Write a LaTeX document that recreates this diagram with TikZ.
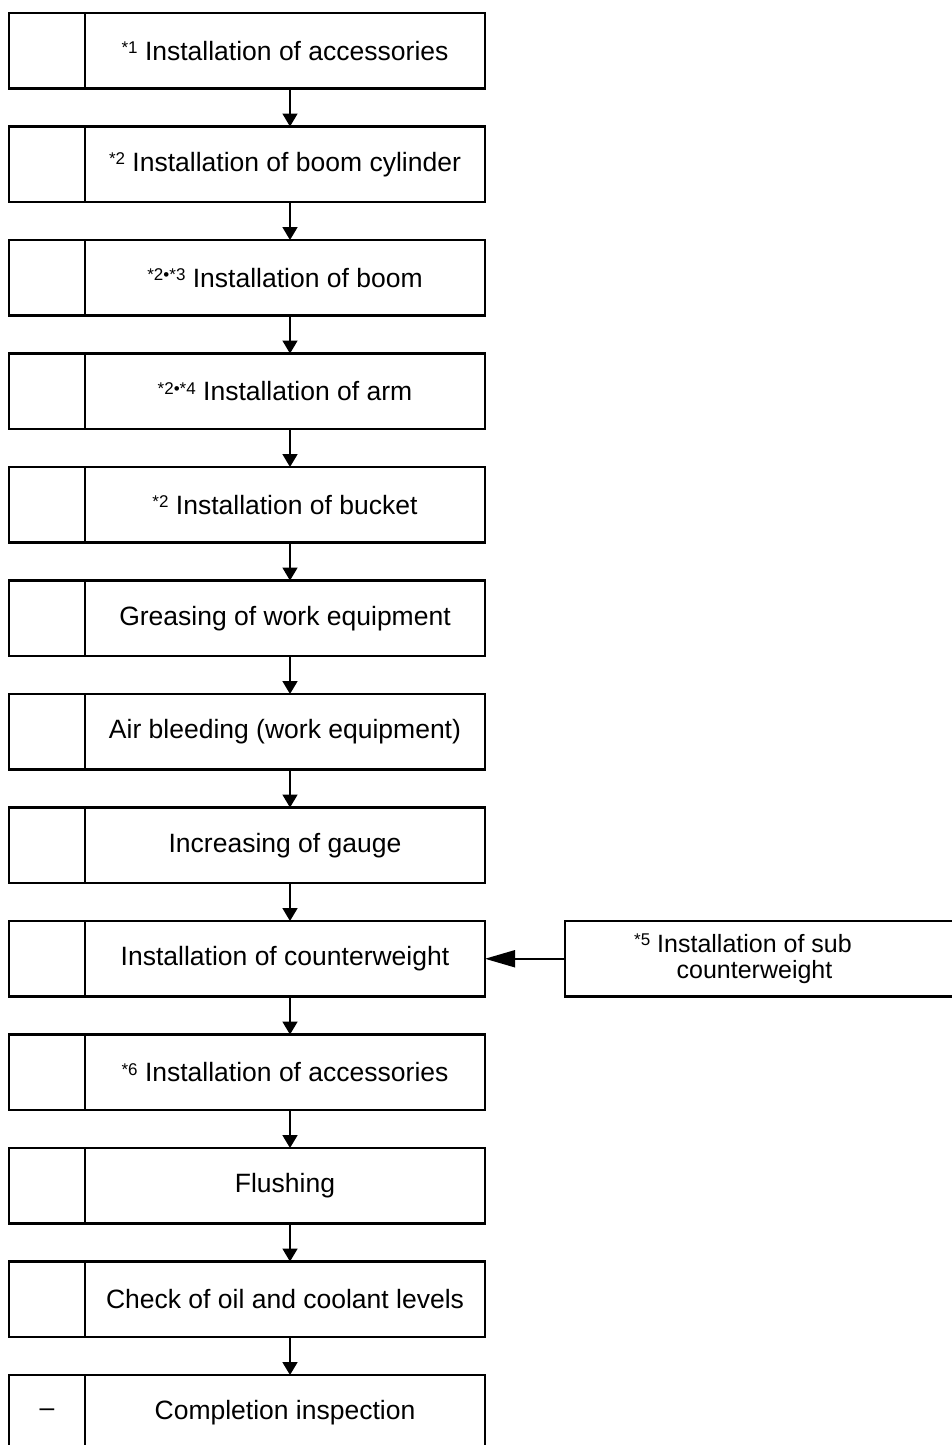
\documentclass[tikz,border=0pt]{standalone}
\usepackage{fontspec}
\setmainfont{Liberation Sans}
\usetikzlibrary{positioning,arrows.meta}

\newcommand\starno[1]{\raisebox{6.5pt}{\fontsize{17}{17}\selectfont *#1}}

\tikzset{
  leftcell/.style={draw, line width=2.4pt, outer sep=0pt, inner sep=0pt,
    minimum width=76pt, minimum height=75.5pt, font=\fontsize{26.5}{28}\selectfont},
  stepbox/.style={leftcell, minimum width=400pt},
  subbox/.style={leftcell, minimum width=395pt},
  flow/.style={line width=1.8pt, -{Triangle[length=13pt,width=15pt]}},
  feed/.style={line width=1.8pt, -{Triangle[length=30pt,width=17pt]}},
}

\begin{document}
\begin{tikzpicture}[x=1pt,y=-1pt]
\useasboundingbox (0,0) rectangle (951,1445);

\node[leftcell] (l1) at (47,50.75) {};
\node[stepbox, right=0pt of l1] (s1) {\starno1 Installation of accessories};
\node[leftcell, below=38pt of l1] (l2) {};
\node[stepbox, right=0pt of l2] (s2) {\starno2 Installation of boom cylinder};
\node[leftcell, below=38pt of l2] (l3) {};
\node[stepbox, right=0pt of l3] (s3) {\starno{2•*3} Installation of boom};
\node[leftcell, below=38pt of l3] (l4) {};
\node[stepbox, right=0pt of l4] (s4) {\starno{2•*4} Installation of arm};
\node[leftcell, below=38pt of l4] (l5) {};
\node[stepbox, right=0pt of l5] (s5) {\starno2 Installation of bucket};
\node[leftcell, below=38pt of l5] (l6) {};
\node[stepbox, right=0pt of l6] (s6) {Greasing of work equipment};
\node[leftcell, below=38pt of l6] (l7) {};
\node[stepbox, right=0pt of l7] (s7) {Air bleeding (work equipment)};
\node[leftcell, below=38pt of l7] (l8) {};
\node[stepbox, right=0pt of l8] (s8) {Increasing of gauge};
\node[leftcell, below=38pt of l8] (l9) {};
\node[stepbox, right=0pt of l9] (s9) {Installation of counterweight};
\node[leftcell, below=38pt of l9] (l10) {};
\node[stepbox, right=0pt of l10] (s10) {\starno6 Installation of accessories};
\node[leftcell, below=38pt of l10] (l11) {};
\node[stepbox, right=0pt of l11] (s11) {Flushing};
\node[leftcell, below=38pt of l11] (l12) {};
\node[stepbox, right=0pt of l12] (s12) {Check of oil and coolant levels};
\node[leftcell, below=38pt of l12] (l13) {--};
\node[stepbox, right=0pt of l13] (s13) {Completion inspection};

% side step
\node[subbox, right=80pt of s9] (sub) {};
\node[align=center, inner sep=0pt, font=\fontsize{25}{26}\selectfont] (subtext)
  at ([xshift=-8pt]sub.center) {\llap{\starno5 }Installation of sub\\counterweight};

\draw[flow] ([xshift=5pt]s1.south) -- ([xshift=5pt]s2.north);
\draw[flow] ([xshift=5pt]s2.south) -- ([xshift=5pt]s3.north);
\draw[flow] ([xshift=5pt]s3.south) -- ([xshift=5pt]s4.north);
\draw[flow] ([xshift=5pt]s4.south) -- ([xshift=5pt]s5.north);
\draw[flow] ([xshift=5pt]s5.south) -- ([xshift=5pt]s6.north);
\draw[flow] ([xshift=5pt]s6.south) -- ([xshift=5pt]s7.north);
\draw[flow] ([xshift=5pt]s7.south) -- ([xshift=5pt]s8.north);
\draw[flow] ([xshift=5pt]s8.south) -- ([xshift=5pt]s9.north);
\draw[flow] ([xshift=5pt]s9.south) -- ([xshift=5pt]s10.north);
\draw[flow] ([xshift=5pt]s10.south) -- ([xshift=5pt]s11.north);
\draw[flow] ([xshift=5pt]s11.south) -- ([xshift=5pt]s12.north);
\draw[flow] ([xshift=5pt]s12.south) -- ([xshift=5pt]s13.north);
\draw[feed] (sub.west) -- (s9.east);

\end{tikzpicture}
\end{document}
